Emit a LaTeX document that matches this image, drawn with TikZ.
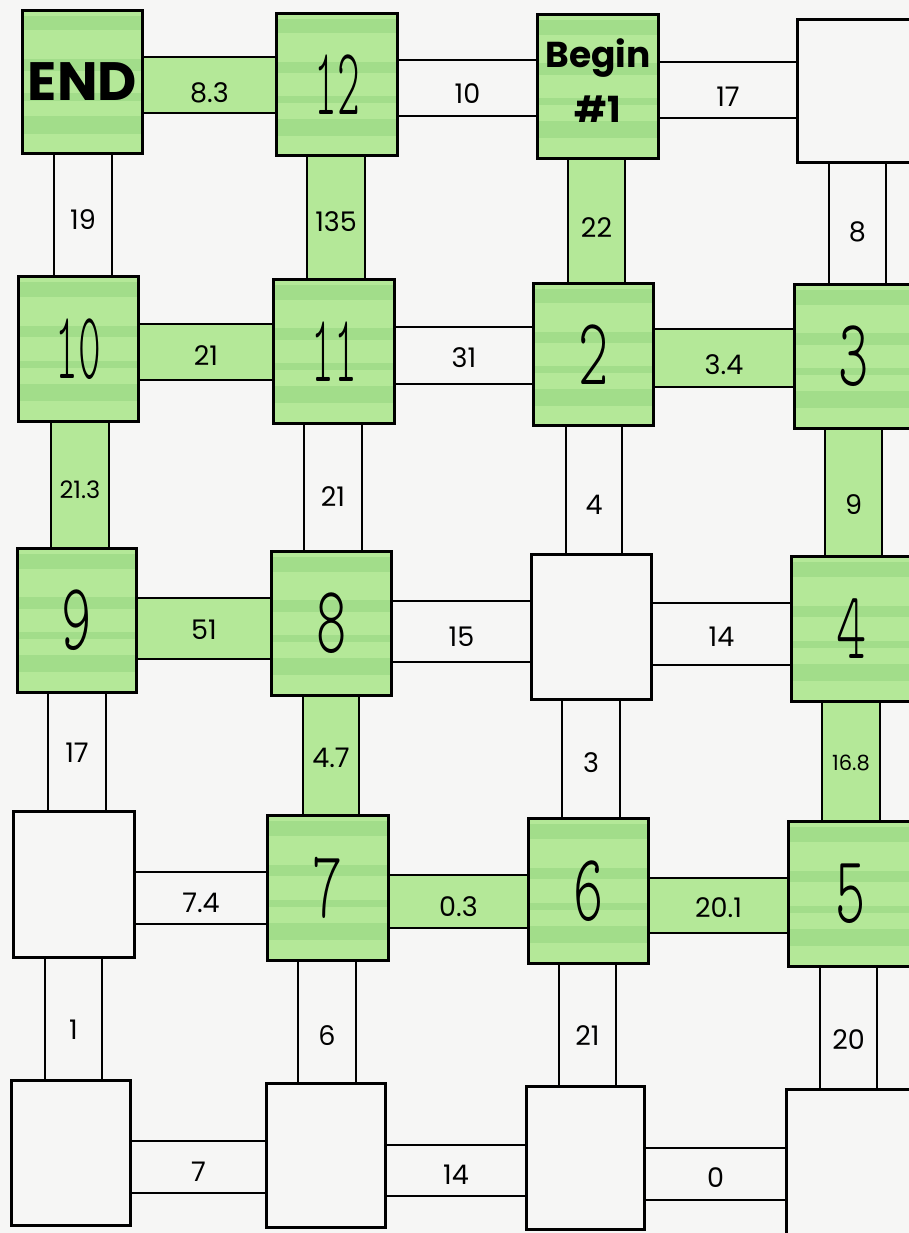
\documentclass[tikz,border=0pt]{standalone}
\usepackage{graphicx}
\usepackage{fontspec}
\setmainfont{Poppins}
\newfontfamily\handfont{lmmonolt10-regular.otf}
\usetikzlibrary{calc}
\definecolor{paper}{RGB}{246,246,245}
\definecolor{mk}{RGB}{180,232,152}
\definecolor{mkd}{RGB}{148,213,128}
\pgfdeclarelayer{bg}
\pgfsetlayers{bg,main}
\tikzset{
  gbox/.style={draw, line width=2.8pt, fill=mk, inner sep=0pt, align=center,
    path picture={
      \foreach \f/\g in {0.04/0.14, 0.34/0.42, 0.58/0.63, 0.74/0.86}{
        \fill[mkd, opacity=0.55]
          ($(path picture bounding box.north west)!\f!(path picture bounding box.south west)$)
          rectangle
          ($(path picture bounding box.north east)!\g!(path picture bounding box.south east)$);
      }}},
  wbox/.style={draw, line width=2.8pt, fill=paper, inner sep=0pt},
  barline/.style={line width=2.5pt},
  lab/.style={inner sep=0pt, font=\fontsize{27}{27}\selectfont},
}
% box: name, x1, y1, x2, y2, style, text
\newcommand\mkbox[7]{\node[#6, minimum width={(#4-#2)*1pt-2.8pt}, minimum height={(#5-#3)*1pt-2.8pt}] (#1) at ({(#2+#4)/2},{(#3+#5)/2}) {#7};}
% horizontal bar: A, B, y1, y2, label y, fill, label
\newcommand\HBar[7]{%
  \begin{pgfonlayer}{bg}\fill[#6] (#1.east |- 0,#3) rectangle (#2.west |- 0,#4);\end{pgfonlayer}
  \draw[barline] (#1.east |- 0,#3+1.2) -- (#2.west |- 0,#3+1.2);
  \draw[barline] (#1.east |- 0,#4-1.2) -- (#2.west |- 0,#4-1.2);
  \node[lab] (l#1#2) at ($(#1.east |- 0,#5)!0.5!(#2.west |- 0,#5)$) {#7};}
% vertical bar: A, B, x1, x2, label y, fill, label
\newcommand\VBar[7]{%
  \begin{pgfonlayer}{bg}\fill[#6] (#1.south -| #3,0) rectangle (#2.north -| #4,0);\end{pgfonlayer}
  \draw[barline] (#1.south -| #3+1.2,0) -- (#2.north -| #3+1.2,0);
  \draw[barline] (#1.south -| #4-1.2,0) -- (#2.north -| #4-1.2,0);
  \node[lab] (l#1#2) at ({(#3+#4)/2},#5) {#7};}
\newcommand\hd[2]{{\handfont\fontsize{96}{96}\selectfont\scalebox{#1}[1]{#2}}}
\begin{document}
\begin{tikzpicture}[x=1pt,y=-1pt]
\useasboundingbox (0,0) rectangle (909,1233);
\begin{pgfonlayer}{bg}\fill[paper] (0,0) rectangle (909,1233);\end{pgfonlayer}
% row 1
\mkbox{B11}{21}{9}{144}{155}{gbox}{\bfseries\fontsize{54}{54}\selectfont END}
\mkbox{B12}{275}{12}{399}{157}{gbox}{\hd{0.45}{12}}
\mkbox{B13}{536}{13}{660}{160}{gbox}{}
\node[inner sep=0pt, align=center, font=\bfseries\fontsize{36}{55}\selectfont] (tBegin) at ([yshift=6pt]B13.center) {Begin\\\#1};
\mkbox{B14}{796}{18}{914}{164}{wbox}{}
% row 2
\mkbox{B21}{17}{275}{140}{423}{gbox}{\hd{0.45}{10}}
\mkbox{B22}{272}{278}{396}{425}{gbox}{\hd{0.45}{11}}
\mkbox{B23}{532}{282}{655}{427}{gbox}{\hd{0.6}{2}}
\mkbox{B24}{793}{283}{914}{430}{gbox}{\hd{0.6}{3}}
% row 3
\mkbox{B31}{16}{547}{138}{694}{gbox}{\hd{0.6}{9}}
\mkbox{B32}{270}{550}{393}{697}{gbox}{\hd{0.6}{8}}
\mkbox{B33}{530}{553}{653}{701}{wbox}{}
\mkbox{B34}{790}{555}{914}{703}{gbox}{\hd{0.6}{4}}
% row 4
\mkbox{B41}{12}{810}{136}{959}{wbox}{}
\mkbox{B42}{266}{814}{390}{962}{gbox}{\hd{0.6}{7}}
\mkbox{B43}{527}{817}{650}{965}{gbox}{\hd{0.6}{6}}
\mkbox{B44}{787}{820}{914}{968}{gbox}{\hd{0.6}{5}}
% row 5
\mkbox{B51}{10}{1079}{132}{1227}{wbox}{}
\mkbox{B52}{265}{1082}{387}{1229}{wbox}{}
\mkbox{B53}{525}{1085}{646}{1231}{wbox}{}
\mkbox{B54}{785}{1088}{914}{1245}{wbox}{}
% horizontal bars
\HBar{B11}{B12}{56}{114}{93}{mk}{8.3}
\HBar{B12}{B13}{59}{117}{94}{paper}{10}
\HBar{B13}{B14}{61}{119}{97}{paper}{17}
\HBar{B21}{B22}{323}{381}{356}{mk}{21}
\HBar{B22}{B23}{326}{385}{358}{paper}{31}
\HBar{B23}{B24}{328}{388}{365}{mk}{3.4}
\HBar{B31}{B32}{597}{660}{630}{mk}{51}
\HBar{B32}{B33}{600}{663}{637}{paper}{15}
\HBar{B33}{B34}{602}{666}{637}{paper}{14}
\HBar{B41}{B42}{871}{925}{903}{paper}{7.4}
\HBar{B42}{B43}{874}{929}{907}{mk}{0.3}
\HBar{B43}{B44}{877}{934}{908}{mk}{20.1}
\HBar{B51}{B52}{1140}{1194}{1172}{paper}{7}
\HBar{B52}{B53}{1144}{1197}{1175}{paper}{14}
\HBar{B53}{B54}{1147}{1201}{1178}{paper}{0}
% vertical bars
\VBar{B11}{B21}{53}{113}{220}{paper}{19}
\VBar{B12}{B22}{306}{366}{222}{mk}{135}
\VBar{B13}{B23}{567}{626}{228}{mk}{22}
\VBar{B14}{B24}{828}{887}{232}{paper}{8}
\VBar{B21}{B31}{50}{110}{490}{mk}{\fontsize{24}{24}\selectfont 21.3}
\VBar{B22}{B32}{303}{363}{497}{paper}{21}
\VBar{B23}{B33}{565}{623}{505}{paper}{4}
\VBar{B24}{B34}{824}{883}{505}{mk}{9}
\VBar{B31}{B41}{47}{107}{753}{paper}{17}
\VBar{B32}{B42}{302}{360}{758}{mk}{4.7}
\VBar{B33}{B43}{561}{621}{763}{paper}{3}
\VBar{B34}{B44}{821}{881}{763}{mk}{\fontsize{21}{21}\selectfont 16.8}
\VBar{B41}{B51}{44}{103}{1030}{paper}{1}
\VBar{B42}{B52}{297}{357}{1036}{paper}{6}
\VBar{B43}{B53}{558}{617}{1036}{paper}{21}
\VBar{B44}{B54}{819}{878}{1040}{paper}{20}
\end{tikzpicture}
\end{document}
